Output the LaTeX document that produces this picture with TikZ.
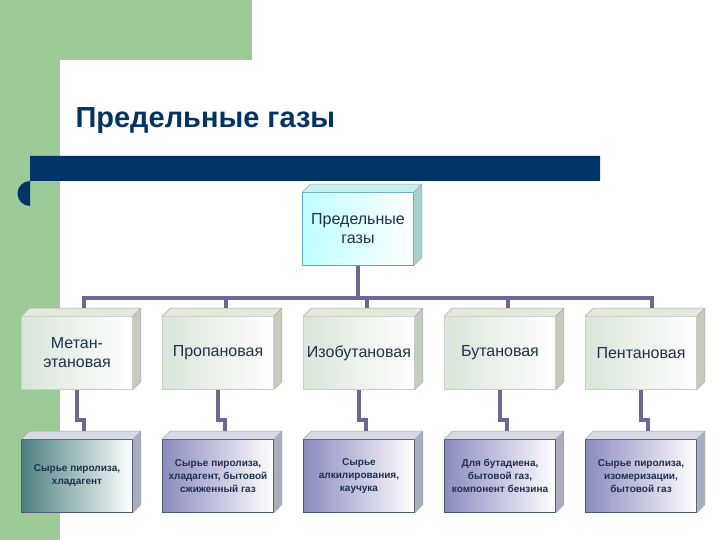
\documentclass[tikz,border=0pt]{standalone}
\usepackage{fontspec}
\setmainfont{Liberation Sans}
\usetikzlibrary{calc}
\definecolor{grn}{HTML}{9DCB98}
\definecolor{navy}{HTML}{003366}
\definecolor{txt}{HTML}{1F3050}
\definecolor{lnk}{HTML}{6B6796}
\definecolor{tT}{HTML}{C8F0F0}\definecolor{sT}{HTML}{A8D0D0}
\definecolor{tM}{HTML}{E2EADC}\definecolor{sM}{HTML}{C4CCBE}
\definecolor{tL}{HTML}{D6DAE4}\definecolor{sL}{HTML}{A8AEBE}
\tikzset{
 cubeA/.style={minimum width=111pt,minimum height=73pt,inner sep=2pt,align=center,text=txt,font=\bfseries,draw=gray!70,line width=0.6pt},
 topbox/.style={cubeA,left color=cyan!25,right color=white,draw=cyan!50!gray,font=\fontsize{16}{19}\selectfont},
 midbox/.style={cubeA,left color=green!20!gray!25,right color=white,draw=gray!40,font=\fontsize{16}{19}\selectfont},
 lowbox/.style={cubeA,left color=blue!30!gray!70,right color=white,draw=txt!80,font=\bfseries\fontsize{10}{13}\selectfont},
 lowboxA/.style={lowbox,left color=teal!40!gray},
 link/.style={lnk,line width=3.5pt},
}
\newcommand{\faces}[3]{%
 \fill[#2] (#1.north west) -- ++(8,-8) -- ($(#1.north east)+(8,-8)$) -- (#1.north east) -- cycle;
 \fill[#3] (#1.north east) -- ++(8,-8) -- ($(#1.south east)+(8,-8)$) -- (#1.south east) -- cycle;
 \draw[gray!70,line width=0.5pt] (#1.north west) -- ++(8,-8) -- ($(#1.north east)+(8,-8)$) -- ($(#1.south east)+(8,-8)$) -- (#1.south east) (#1.north east) -- ++(8,-8);}
\begin{document}
\begin{tikzpicture}[x=1pt,y=-1pt]
\useasboundingbox (0,0) rectangle (720,540);
\fill[white] (0,0) rectangle (720,540);
\fill[grn] (0,0) rectangle (252,60);
\fill[grn] (0,0) rectangle (60,540);
\fill[white] (60,90) arc[start angle=180,end angle=90,radius=30] -- (252,60) -- (252,540) -- (60,540) -- cycle;
\fill[navy] (30,156) -- (600,156) -- (600,181) -- (30,181) arc[start angle=270,end angle=90,radius=12.5] -- cycle;
\node[anchor=west,text=navy,font=\bfseries\fontsize{29}{34}\selectfont] (title) at (72,121) {Предельные газы};
% boxes
\node[topbox] (T) at (358,229) {Предельные\\газы};
\foreach \n/\x/\t in {m1/77/{Метан-\\этановая},m2/218/Пропановая,m3/359/Изобутановая,m4/500/Бутановая,m5/641/Пентановая}
 \node[midbox] (\n) at (\x,353) {\t};
\node[lowboxA] (l1) at (77,476) {Сырье пиролиза,\\хладагент};
\node[lowbox] (l2) at (218,476) {Сырье пиролиза,\\хладагент, бытовой\\сжиженный газ};
\node[lowbox] (l3) at (359,476) {Сырье\\алкилирования,\\каучука};
\node[lowbox] (l4) at (500,476) {Для бутадиена,\\бытовой газ,\\компонент бензина};
\node[lowbox] (l5) at (641,476) {Сырье пиролиза,\\изомеризации,\\бытовой газ};
\faces{T}{tT}{sT}
\foreach \n in {m1,m2,m3,m4,m5} {\faces{\n}{tM}{sM}}
\foreach \n in {l1,l2,l3,l4,l5} {\faces{\n}{tL}{sL}}
% links
\coordinate (bar) at (0,298);
\draw[link] (T.south) -- (T.south |- bar);
\draw[link] ($(m1.north)+(7,-8)$) |- ($(m5.north)+(11,-18)$) -- ($(m5.north)+(11,-8)$);
\foreach \n in {m2,m3,m4} {\draw[link] ($(\n.north)+(8,-18)$) -- ($(\n.north)+(8,-8)$);}
\foreach \m/\l in {m1/l1,m2/l2,m3/l3,m4/l4,m5/l5}
 {\draw[link] (\m.south) -- ++(0,30) -| ($(\l.north)+(7,-8)$);}
\end{tikzpicture}
\end{document}
